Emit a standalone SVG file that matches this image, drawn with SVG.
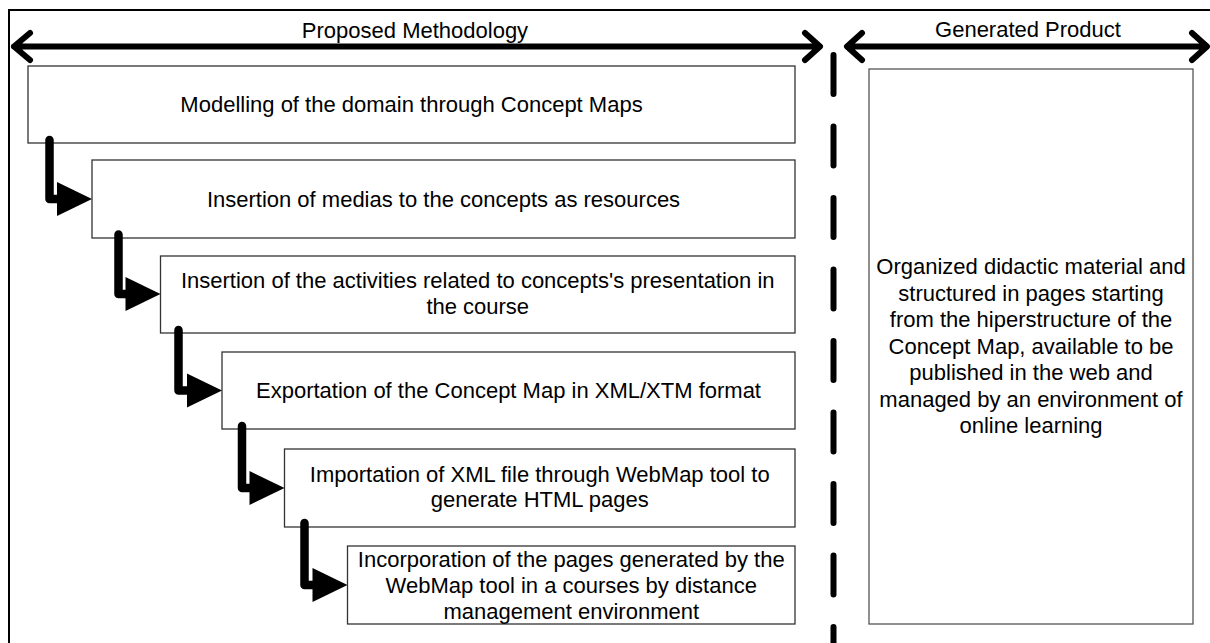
<svg xmlns="http://www.w3.org/2000/svg" width="1210" height="643" viewBox="0 0 1210 643">
<style>
  text { font-family: "Liberation Sans", Arial, sans-serif; font-size: 22px; fill: #000; text-anchor: middle; }
  .box { fill: #fff; stroke: #333; stroke-width: 1.3; }
  .pbox { fill: #fff; stroke: #555; stroke-width: 1.3; }
  .arrowline { fill: none; stroke: #000; stroke-width: 6; stroke-linecap: round; stroke-linejoin: round; }
  .conn { fill: none; stroke: #000; stroke-width: 8.5; stroke-linecap: round; stroke-linejoin: round; }
  .head { fill: #000; stroke: none; }
  .divider { fill: none; stroke: #000; stroke-width: 6; stroke-linecap: round; stroke-dasharray: 39 32.5; }
</style>
<rect x="0" y="0" width="1210" height="643" fill="#fff"/>
<rect x="9" y="10" width="1215" height="650" fill="none" stroke="#000" stroke-width="2"/>

<g id="headers">
  <text x="415" y="38">Proposed Methodology</text>
  <path class="arrowline" d="M14,46.5 H819 M30,33 L14,46.5 L30,60 M805,33 L820,46.5 L805,60"/>
  <text x="1028" y="37">Generated Product</text>
  <path class="arrowline" d="M848,46.5 H1206 M862,33 L847,46.5 L862,60 M1192,33 L1207,46.5 L1192,60"/>
</g>

<g id="divider">
  <path class="divider" d="M833.5,55 V660"/>
</g>

<g id="step1">
  <rect class="box" x="28" y="66" width="767" height="77"/>
  <text x="411.5" y="112">Modelling of the domain through Concept Maps</text>
</g>
<g id="step2">
  <rect class="box" x="92" y="160" width="703" height="78"/>
  <text x="443.5" y="207">Insertion of medias to the concepts as resources</text>
</g>
<g id="step3">
  <rect class="box" x="160.5" y="256" width="634.5" height="77"/>
  <text x="477.75" y="288">Insertion of the activities related to concepts's presentation in</text>
  <text x="477.75" y="314">the course</text>
</g>
<g id="step4">
  <rect class="box" x="222" y="352" width="573" height="77"/>
  <text x="508.5" y="398">Exportation of the Concept Map in XML/XTM format</text>
</g>
<g id="step5">
  <rect class="box" x="284.5" y="449" width="510.5" height="78"/>
  <text x="539.75" y="482">Importation of XML file through WebMap tool to</text>
  <text x="539.75" y="507">generate HTML pages</text>
</g>
<g id="step6">
  <rect class="box" x="347.5" y="546" width="447.5" height="78"/>
  <text x="571.25" y="566.5">Incorporation of the pages generated by the</text>
  <text x="571.25" y="592.5">WebMap tool in a courses by distance</text>
  <text x="571.25" y="618.5">management environment</text>
</g>

<g id="product">
  <rect class="pbox" x="869" y="69" width="324" height="555"/>
  <text x="1031" y="274">Organized didactic material and</text>
  <text x="1031" y="300.5">structured in pages starting</text>
  <text x="1031" y="327">from the hiperstructure of the</text>
  <text x="1031" y="353.5">Concept Map, available to be</text>
  <text x="1031" y="380">published in the web and</text>
  <text x="1031" y="406.5">managed by an environment of</text>
  <text x="1031" y="433">online learning</text>
</g>

<g id="connectors">
  <path class="conn" d="M49.5,140 V199 H58"/>
  <polygon class="head" points="57,182 92,199 57,216"/>
  <path class="conn" d="M118.5,234.5 V294 H126"/>
  <polygon class="head" points="125.5,277 160.5,294 125.5,311"/>
  <path class="conn" d="M178.5,330 V390.5 H188"/>
  <polygon class="head" points="187,373.5 222,390.5 187,407.5"/>
  <path class="conn" d="M242,426 V488 H250"/>
  <polygon class="head" points="249.5,471 284.5,488 249.5,505"/>
  <path class="conn" d="M304.5,523 V585 H313"/>
  <polygon class="head" points="312.5,568 347.5,585 312.5,602"/>
</g>
</svg>
